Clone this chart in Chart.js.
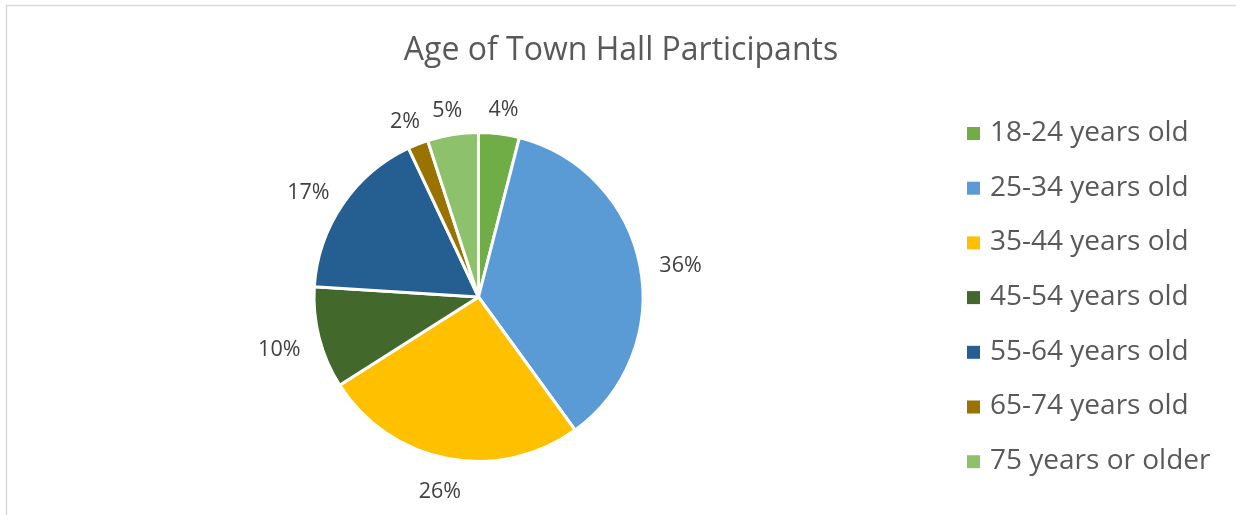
<!DOCTYPE html>
<html>
<head>
<meta charset="utf-8">
<script src="https://cdn.jsdelivr.net/npm/chart.js@4"></script>
<style>
  html, body { margin: 0; padding: 0; background: #fff; overflow: hidden; }
  #wrap { position: relative; width: 1236px; height: 515px; }
</style>
</head>
<body>
<div id="wrap"><canvas id="pieChart" width="1236" height="515"></canvas></div>
<script>
        // 1. Data
        const titleText = 'Age of Town Hall Participants';
        const categories = ['18-24 years old', '25-34 years old', '35-44 years old', '45-54 years old', '55-64 years old', '65-74 years old', '75 years or older'];
        const shares = [4, 36, 26, 10, 17, 2, 5];
        const colors = ['#70AD47', '#5B9BD5', '#FFC000', '#43682B', '#255E91', '#9A7200', '#8DC16B'];

        const FONT = '"Open Sans", sans-serif';

        // 2. Plugin: frame, title, outside labels, legend
        const decorPlugin = {
            id: 'decor',
            afterDraw: (chart) => {
                const { ctx, data } = chart;
                ctx.save();

                // frame (top + left border of the Excel chart area)
                ctx.strokeStyle = '#d9d9d9';
                ctx.lineWidth = 1.5;
                ctx.beginPath();
                ctx.moveTo(6.5, 515);
                ctx.lineTo(6.5, 5.5);
                ctx.lineTo(1236, 5.5);
                ctx.stroke();

                // title
                ctx.fillStyle = '#595959';
                ctx.font = '32px ' + FONT;
                ctx.textAlign = 'center';
                ctx.textBaseline = 'middle';
                ctx.fillText(titleText, 621, 51);

                // percentage labels outside each slice
                const meta = chart.getDatasetMeta(0);
                ctx.font = '21.5px ' + FONT;
                ctx.fillStyle = '#404040';
                meta.data.forEach((arc, i) => {
                    const mid = (arc.startAngle + arc.endAngle) / 2;
                    const c = Math.cos(mid), s = Math.sin(mid);
                    const txt = data.datasets[0].data[i] + '%';
                    const w = ctx.measureText(txt).width;
                    const r = arc.outerRadius + 20;
                    const x = arc.x + r * c + (w / 2) * c;
                    const y = arc.y + r * s + 9 * s + 5;
                    ctx.fillText(txt, x, y);
                });

                // legend
                ctx.font = '28px ' + FONT;
                ctx.textAlign = 'left';
                data.labels.forEach((lab, i) => {
                    const y = 133 + i * 54.7;
                    ctx.fillStyle = colors[i];
                    ctx.fillRect(967, y - 6, 13, 13);
                    ctx.fillStyle = '#595959';
                    ctx.fillText(lab, 990, y);
                });

                ctx.restore();
            }
        };

        // 3. Pie
        new Chart(document.getElementById('pieChart').getContext('2d'), {
            type: 'pie',
            data: {
                labels: categories,
                datasets: [{ data: shares, backgroundColor: colors, borderColor: '#ffffff', borderWidth: 3 }]
            },
            options: {
                responsive: false,
                animation: false,
                layout: { padding: { left: 312, right: 591, top: 131, bottom: 52 } },
                plugins: { legend: { display: false }, title: { display: false }, tooltip: { enabled: false } }
            },
            plugins: [decorPlugin]
        });
</script>
</body>
</html>
